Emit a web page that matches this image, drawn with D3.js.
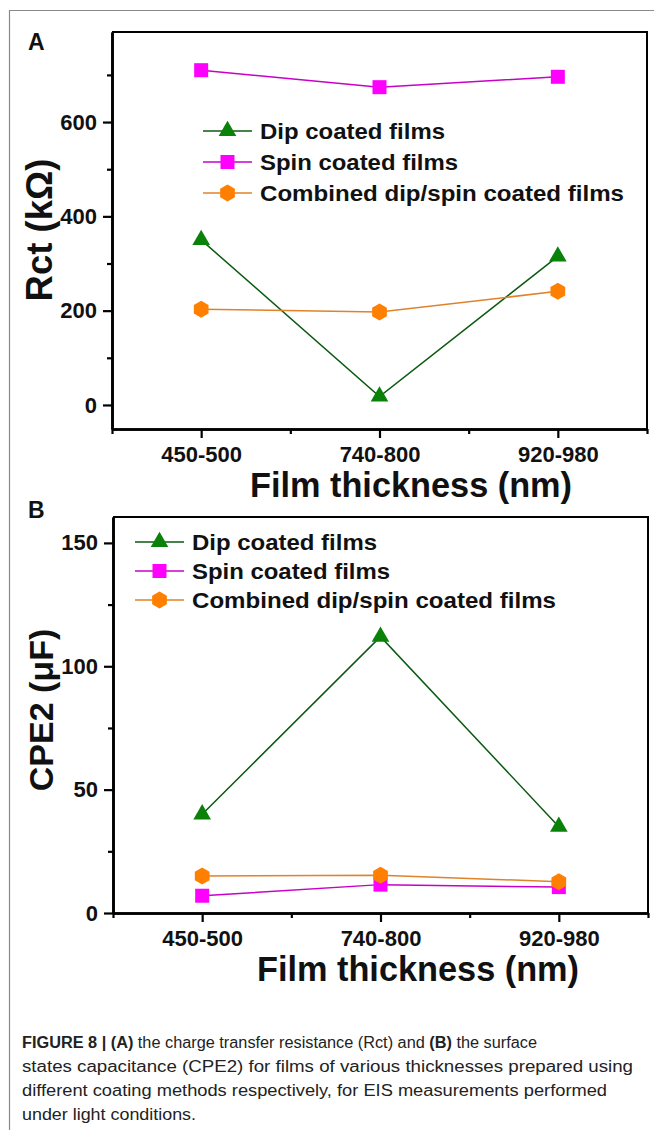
<!DOCTYPE html>
<html>
<head>
<meta charset="utf-8">
<script src="https://cdn.jsdelivr.net/npm/d3@7"></script>
<style>
  body { margin: 0; background: #fff; }
  svg { display: block; font-family: "Liberation Sans", Arial, sans-serif; }
</style>
</head>
<body>
<svg id="chart" width="654" height="1130"></svg>
<script>
// thickness groups on the x axis
var categories = ['450-500', '740-800', '920-980'];
var seriesNames = ['Dip coated films', 'Spin coated films', 'Combined dip/spin coated films'];

// panel A: Rct (kOhm)
var rctDip      = [350, 18, 315];
var rctSpin     = [710, 674, 696];
var rctCombined = [203, 197, 241];
var rctTicks    = [0, 200, 400, 600];
var rctMinor    = [100, 300, 500, 700];

// panel B: CPE2 (uF)
var cpeDip      = [40, 112, 35];
var cpeSpin     = [7, 11.5, 10.5];
var cpeCombined = [15, 15.3, 12.7];
var cpeTicks    = [0, 50, 100, 150];
var cpeMinor    = [25, 75, 125];

var captionLines = [
  [['FIGURE 8 | (A)', true], [' the charge transfer resistance (Rct) and ', false], ['(B)', true], [' the surface', false]],
  [['states capacitance (CPE2) for films of various thicknesses prepared using', false]],
  [['different coating methods respectively, for EIS measurements performed', false]],
  [['under light conditions.', false]]
];
var captionWidths = [515, 611, 585, 174];
var legendWidths = [185, 198, 364];

var svg = d3.select('#chart');

var styles = [
  { fill: '#0a820a', line: '#0b5a12', shape: 'triangle' },
  { fill: '#ff00ff', line: '#c800c8', shape: 'square' },
  { fill: '#ff7f00', line: '#e0822a', shape: 'hexagon' }
];

// frame around the figure
svg.append('path')
  .attr('d', 'M9.5,1130 V10.5 H654')
  .attr('fill', 'none')
  .attr('stroke', '#8a8a8a')
  .attr('stroke-width', 1.2);

function markerPath(shape) {
  if (shape === 'triangle') return d3.symbol(d3.symbolTriangle, 135)();
  if (shape === 'square') return d3.symbol(d3.symbolSquare, 196)();
  var r = 8.5, pts = [];
  for (var i = 0; i < 6; i++) {
    var a = Math.PI / 3 * i + Math.PI / 6;
    pts.push([r * Math.cos(a), r * Math.sin(a)]);
  }
  return 'M' + pts.map(function (p) { return p.join(','); }).join('L') + 'Z';
}

function drawPanel(opts) {
  var g = svg.append('g');

  var x = d3.scaleLinear().domain([0.5, 3.5]).range([opts.left, opts.right]);
  var y = d3.scaleLinear().domain(opts.domain).range([opts.bottom, opts.top]);

  // top + right frame
  g.append('path')
    .attr('d', 'M' + opts.left + ',' + opts.top + 'H' + opts.right + 'V' + opts.bottom)
    .attr('fill', 'none')
    .attr('stroke', '#000')
    .attr('stroke-width', 2);

  // x axis, major + minor
  var xAxis = g.append('g')
    .attr('transform', 'translate(0,' + opts.bottom + ')')
    .call(d3.axisBottom(x).tickValues([1, 2, 3])
      .tickFormat(function (d) { return categories[d - 1]; })
      .tickSize(9).tickSizeOuter(0).tickPadding(8));
  g.append('g')
    .attr('transform', 'translate(0,' + opts.bottom + ')')
    .call(d3.axisBottom(x).tickValues([0.5, 1.5, 2.5, 3.5])
      .tickFormat('').tickSize(5).tickSizeOuter(0));

  // y axis, major + minor
  g.append('g')
    .attr('transform', 'translate(' + opts.left + ',0)')
    .call(d3.axisLeft(y).tickValues(opts.ticks)
      .tickSize(9).tickSizeOuter(0).tickPadding(6));
  g.append('g')
    .attr('transform', 'translate(' + opts.left + ',0)')
    .call(d3.axisLeft(y).tickValues(opts.minor)
      .tickFormat('').tickSize(5).tickSizeOuter(0));

  g.selectAll('.domain').attr('stroke-width', 2.6);
  g.selectAll('.tick line').attr('stroke-width', 2.2);
  g.selectAll('.tick text')
    .attr('font-family', '"Liberation Sans", Arial, sans-serif')
    .attr('font-size', 22)
    .attr('font-weight', 'bold')
    .attr('fill', '#111');

  // axis titles
  g.append('text')
    .attr('x', opts.xlabelX)
    .attr('y', opts.bottom + 68)
    .attr('text-anchor', 'middle')
    .attr('font-size', 34.3)
    .attr('font-weight', 'bold')
    .attr('fill', '#111')
    .text('Film thickness (nm)');

  g.append('text')
    .attr('transform', 'translate(' + opts.ylabelX + ',' + opts.ylabelY + ') rotate(-90)')
    .attr('text-anchor', 'middle')
    .attr('font-size', opts.ylabelSize)
    .attr('font-weight', 'bold')
    .attr('fill', '#111')
    .text(opts.ylabel);

  // panel letter
  g.append('text')
    .attr('x', 28)
    .attr('y', opts.letterY)
    .attr('font-size', 23)
    .attr('font-weight', 'bold')
    .attr('fill', '#111')
    .text(opts.letter);

  // series lines and markers
  var line = d3.line()
    .x(function (d, i) { return x(i + 1); })
    .y(function (d) { return y(d); });

  opts.series.forEach(function (values, k) {
    var st = styles[k];
    g.append('path')
      .datum(values)
      .attr('d', line)
      .attr('fill', 'none')
      .attr('stroke', st.line)
      .attr('stroke-width', 1.5);
  });
  opts.series.forEach(function (values, k) {
    var st = styles[k];
    g.selectAll('path.m' + k)
      .data(values)
      .enter()
      .append('path')
      .attr('class', 'm' + k)
      .attr('d', markerPath(st.shape))
      .attr('transform', function (d, i) { return 'translate(' + x(i + 1) + ',' + y(d) + ')'; })
      .attr('fill', st.fill);
  });

  // legend
  var leg = g.append('g');
  seriesNames.forEach(function (name, k) {
    var st = styles[k];
    var ly = opts.legendY + k * opts.legendStep;
    leg.append('line')
      .attr('x1', opts.legendX).attr('x2', opts.legendX + 49)
      .attr('y1', ly).attr('y2', ly)
      .attr('stroke', st.line)
      .attr('stroke-width', 1.5);
    leg.append('path')
      .attr('d', markerPath(st.shape))
      .attr('transform', 'translate(' + (opts.legendX + 24.5) + ',' + ly + ')')
      .attr('fill', st.fill);
    leg.append('text')
      .attr('x', opts.legendX + 57)
      .attr('y', ly)
      .attr('dy', '0.35em')
      .attr('font-size', 22)
      .attr('font-weight', 'bold')
      .attr('fill', '#111')
      .attr('textLength', legendWidths[k])
      .attr('lengthAdjust', 'spacingAndGlyphs')
      .text(name);
  });
}

drawPanel({
  left: 112, right: 647, top: 32, bottom: 429,
  domain: [-51, 791],
  ticks: rctTicks, minor: rctMinor,
  series: [rctDip, rctSpin, rctCombined],
  xlabelX: 411,
  ylabel: 'Rct (k\u03A9)', ylabelX: 52, ylabelY: 230, ylabelSize: 36.5,
  letter: 'A', letterY: 50,
  legendX: 203, legendY: 131, legendStep: 31
});

drawPanel({
  left: 113, right: 648, top: 517, bottom: 913,
  domain: [0, 160.5],
  ticks: cpeTicks, minor: cpeMinor,
  series: [cpeDip, cpeSpin, cpeCombined],
  xlabelX: 418,
  ylabel: 'CPE2 (\u03BCF)', ylabelX: 53, ylabelY: 710, ylabelSize: 34,
  letter: 'B', letterY: 518,
  legendX: 135, legendY: 542, legendStep: 29
});

// caption
var cap = svg.append('g');
captionLines.forEach(function (parts, i) {
  var t = cap.append('text')
    .attr('x', 22)
    .attr('y', 1048 + i * 24)
    .attr('font-family', '"Liberation Sans Narrow", "Liberation Sans", Arial, sans-serif')
    .attr('font-size', 16)
    .attr('fill', '#222')
    .attr('textLength', captionWidths[i])
    .attr('lengthAdjust', 'spacingAndGlyphs');
  parts.forEach(function (p) {
    t.append('tspan')
      .attr('font-weight', p[1] ? 'bold' : 'normal')
      .text(p[0]);
  });
});
</script>
</body>
</html>
